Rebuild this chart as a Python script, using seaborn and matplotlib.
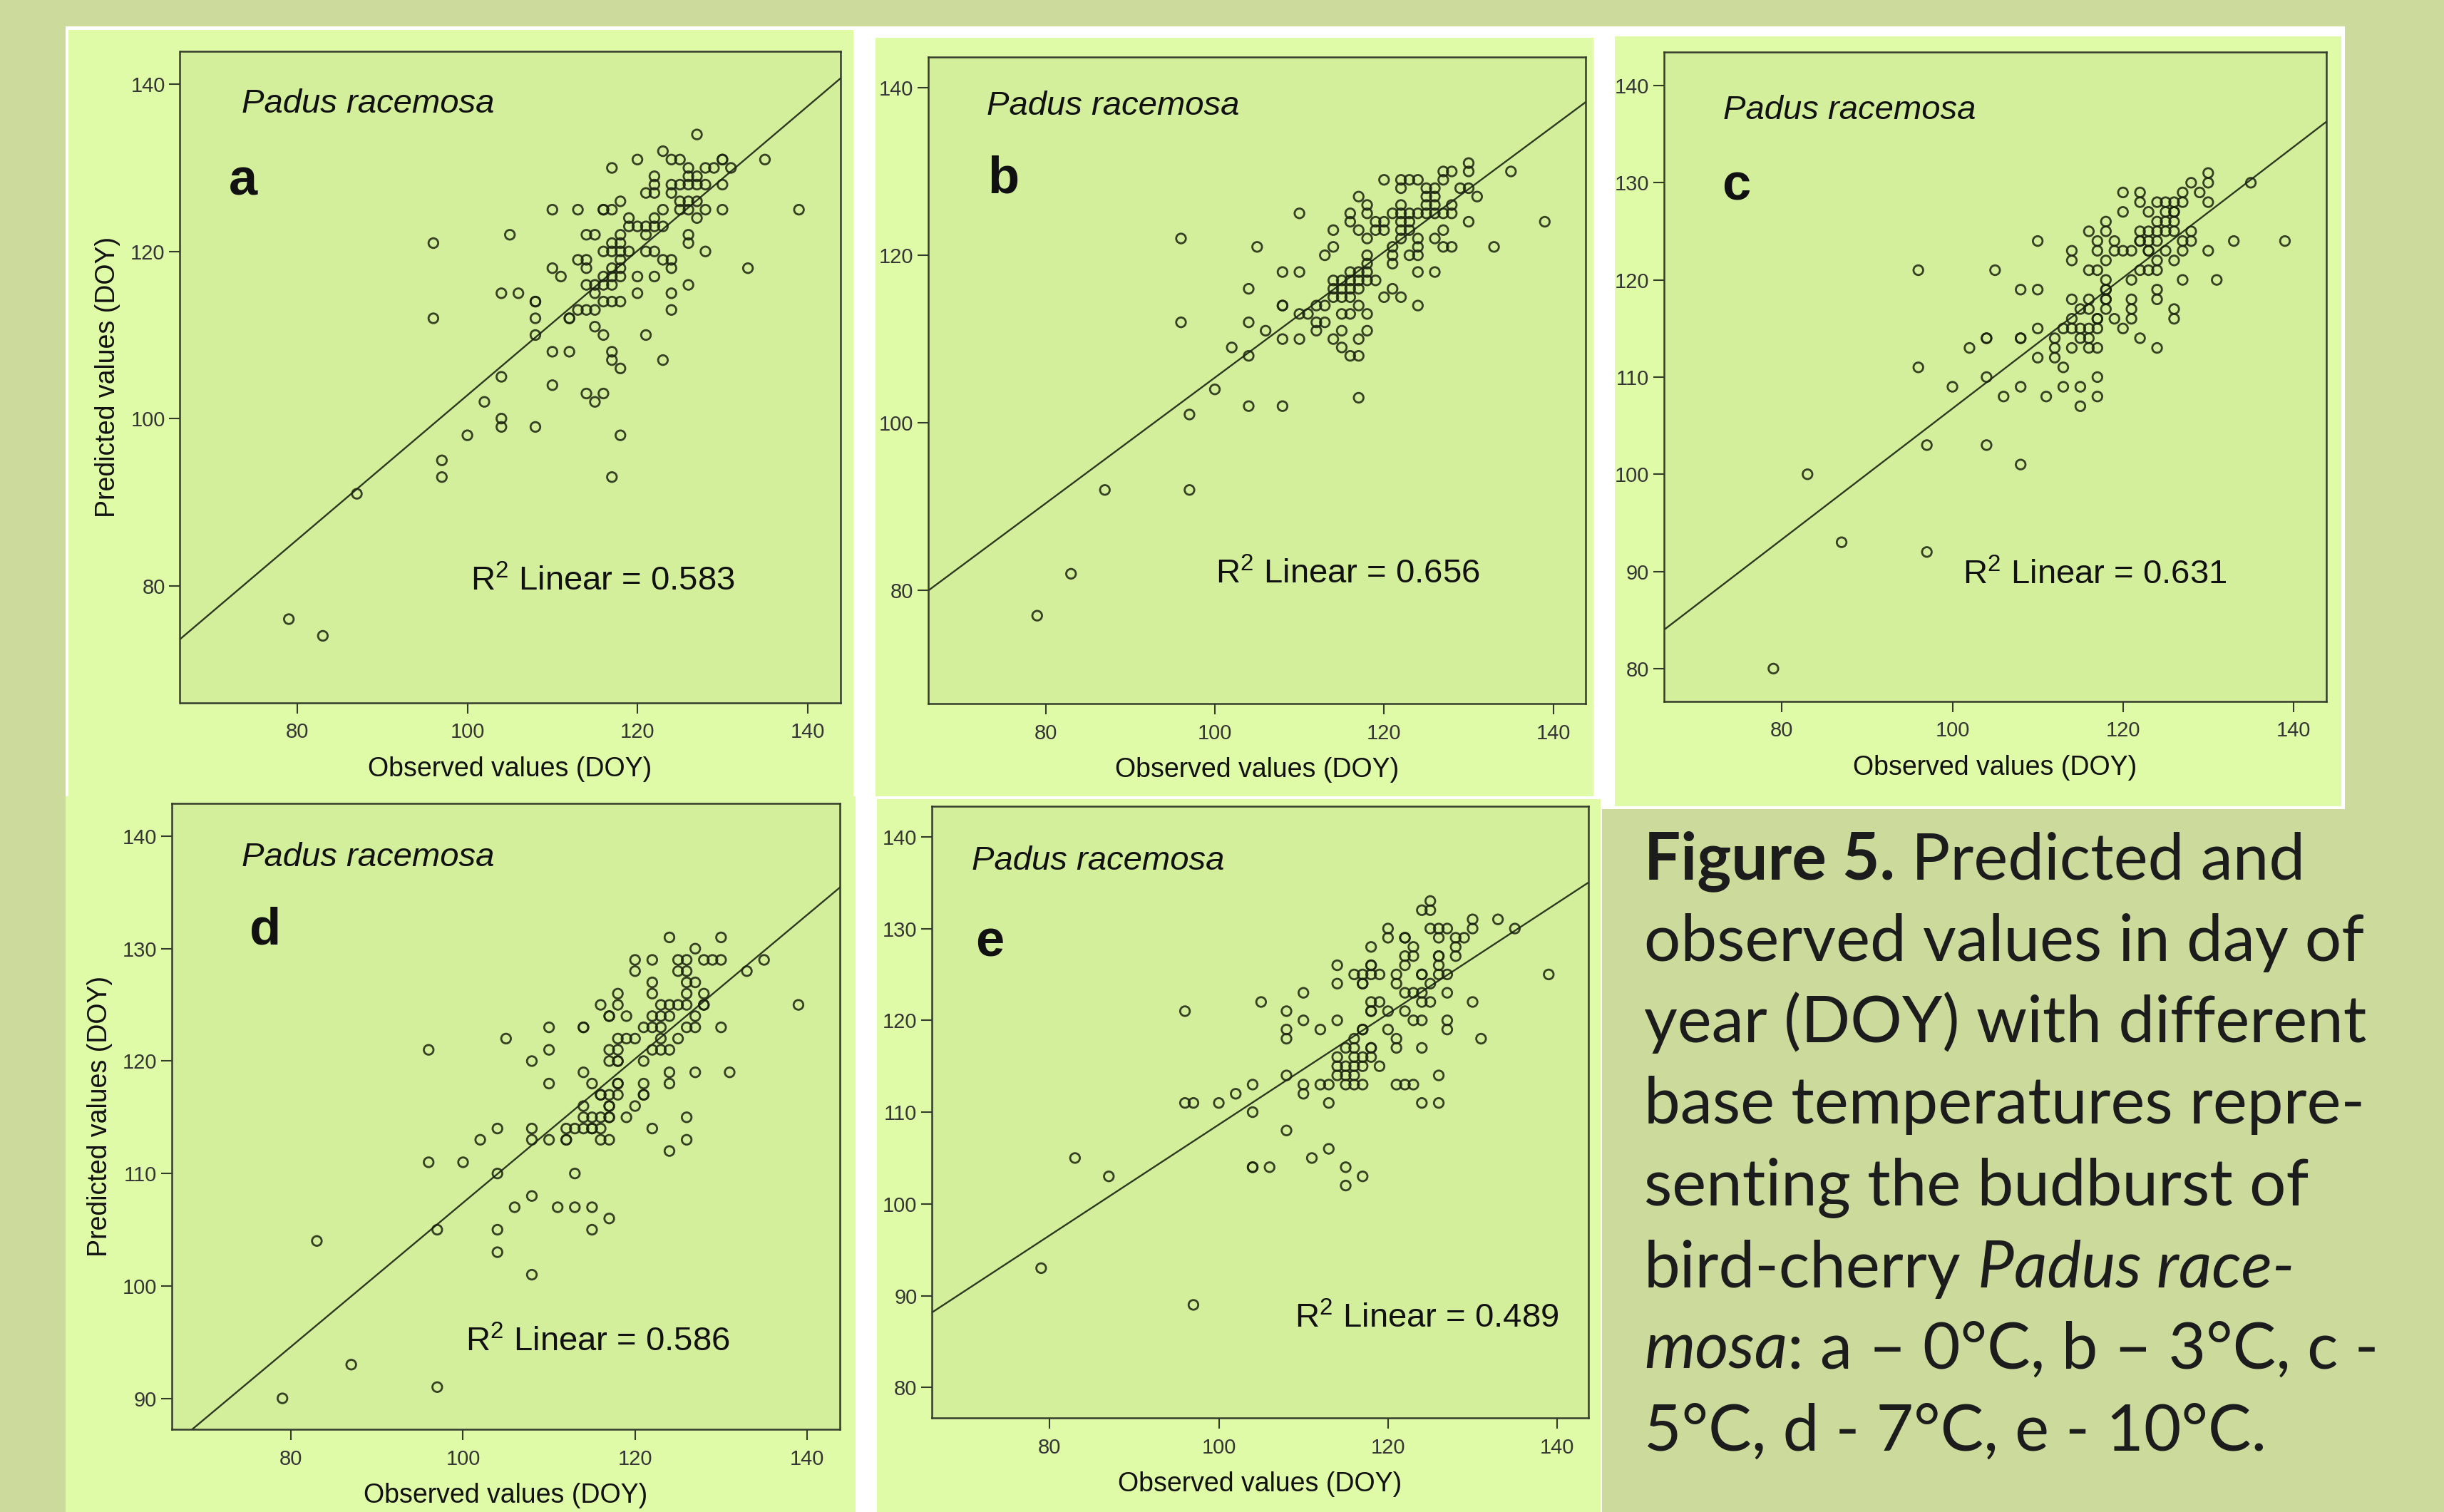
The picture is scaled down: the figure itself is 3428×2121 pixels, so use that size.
import numpy as np
import pandas as pd
import matplotlib
matplotlib.use("Agg")
import matplotlib.pyplot as plt
from matplotlib.patches import Rectangle
import seaborn as sns

# ==========================================
# Data: (observed DOY, predicted DOY)
# ==========================================
pts_a = [(127,134),(123,132),(120,131),(124,131),(125,131),(130,131),(130,131),(135,131),
         (117,130),(126,130),(128,130),(129,130),(131,130),(122,129),(126,129),(127,129),
         (122,128),(124,128),(125,128),(126,128),(127,128),(128,128),(130,128),
         (121,127),(122,127),(124,127),(118,126),(125,126),(126,126),(127,126),
         (110,125),(113,125),(116,125),(116,125),(117,125),(123,125),(125,125),(126,125),
         (128,125),(130,125),(139,125),(119,124),(122,124),(127,124),
         (119,123),(120,123),(121,123),(122,123),(123,123),
         (105,122),(114,122),(115,122),(118,122),(121,122),(126,122),
         (96,121),(117,121),(118,121),(126,121),
         (116,120),(117,120),(118,120),(119,120),(121,120),(122,120),(128,120),
         (113,119),(114,119),(118,119),(123,119),(124,119),
         (110,118),(114,118),(117,118),(118,118),(124,118),(133,118),
         (111,117),(116,117),(117,117),(118,117),(120,117),(122,117),
         (114,116),(115,116),(116,116),(117,116),(126,116),
         (104,115),(106,115),(115,115),(120,115),(124,115),
         (108,114),(108,114),(116,114),(117,114),(118,114),
         (113,113),(114,113),(115,113),(124,113),(96,112),(108,112),(112,112),(112,112),
         (115,111),(108,110),(116,110),(121,110),(110,108),(112,108),(117,108),
         (117,107),(123,107),(118,106),(104,105),(110,104),(114,103),(116,103),
         (102,102),(115,102),(104,100),(104,99),(108,99),(100,98),(118,98),
         (97,95),(97,93),(117,93),(87,91),(79,76),(83,74)]

pts_b = [(130,131),(130,130),(127,130),(128,130),(135,130),
         (120,129),(122,129),(123,129),(124,129),(127,129),
         (122,128),(125,128),(126,128),(129,128),(130,128),
         (117,127),(125,127),(126,127),(131,127),
         (118,126),(122,126),(125,126),(126,126),(128,126),
         (110,125),(116,125),(118,125),(121,125),(122,125),(123,125),(124,125),(125,125),
         (126,125),(127,125),(128,125),
         (116,124),(119,124),(120,124),(122,124),(123,124),(130,124),(139,124),
         (114,123),(117,123),(119,123),(120,123),(122,123),(123,123),(127,123),
         (96,122),(118,122),(122,122),(124,122),(126,122),
         (105,121),(114,121),(121,121),(124,121),(127,121),(128,121),(133,121),
         (113,120),(118,120),(121,120),(123,120),(124,120),(118,119),(121,119),
         (108,118),(110,118),(116,118),(117,118),(118,118),(124,118),(126,118),
         (114,117),(115,117),(116,117),(117,117),(118,117),(119,117),
         (104,116),(114,116),(115,116),(116,116),(117,116),(121,116),
         (114,115),(115,115),(116,115),(120,115),(122,115),
         (108,114),(108,114),(112,114),(113,114),(117,114),(124,114),
         (110,113),(111,113),(115,113),(116,113),(118,113),
         (96,112),(104,112),(112,112),(113,112),
         (106,111),(112,111),(115,111),(118,111),
         (108,110),(110,110),(114,110),(117,110),(102,109),(115,109),
         (104,108),(116,108),(117,108),(100,104),(117,103),(104,102),(108,102),
         (97,101),(97,92),(87,92),(83,82),(79,77)]

pts_c = [(130,131),(130,130),(128,130),(135,130),
         (120,129),(122,129),(127,129),(129,129),
         (122,128),(124,128),(125,128),(126,128),(127,128),(130,128),
         (120,127),(123,127),(125,127),(126,127),(126,127),
         (118,126),(124,126),(125,126),(126,126),
         (116,125),(118,125),(122,125),(123,125),(124,125),(125,125),(126,125),(128,125),
         (110,124),(117,124),(119,124),(122,124),(122,124),(123,124),(124,124),(127,124),
         (128,124),(133,124),(139,124),
         (114,123),(117,123),(119,123),(120,123),(121,123),(123,123),(123,123),(125,123),
         (127,123),(130,123),
         (114,122),(118,122),(124,122),(126,122),
         (96,121),(105,121),(116,121),(117,121),(122,121),(123,121),(124,121),
         (118,120),(121,120),(127,120),(131,120),
         (108,119),(110,119),(118,119),(118,119),(124,119),
         (114,118),(116,118),(118,118),(118,118),(121,118),(124,118),
         (115,117),(116,117),(118,117),(121,117),(126,117),
         (114,116),(117,116),(117,116),(119,116),(121,116),(126,116),
         (110,115),(113,115),(114,115),(115,115),(116,115),(117,115),(120,115),
         (104,114),(104,114),(108,114),(108,114),(112,114),(115,114),(116,114),(122,114),
         (102,113),(112,113),(114,113),(116,113),(117,113),(124,113),
         (110,112),(112,112),(96,111),(113,111),(104,110),(117,110),
         (100,109),(108,109),(113,109),(115,109),(106,108),(111,108),(117,108),
         (115,107),(97,103),(104,103),(108,101),(83,100),(87,93),(97,92),(79,80)]

pts_d = [(124,131),(130,131),(127,130),
         (120,129),(122,129),(125,129),(126,129),(128,129),(129,129),(130,129),(135,129),
         (120,128),(125,128),(126,128),(133,128),
         (122,127),(126,127),(127,127),(118,126),(122,126),(126,126),(128,126),
         (116,125),(118,125),(123,125),(124,125),(125,125),(126,125),(128,125),(128,125),
         (139,125),
         (117,124),(117,124),(119,124),(122,124),(123,124),(124,124),(127,124),
         (110,123),(114,123),(114,123),(121,123),(122,123),(123,123),(126,123),(127,123),
         (130,123),
         (105,122),(118,122),(119,122),(120,122),(123,122),(125,122),
         (96,121),(110,121),(117,121),(118,121),(122,121),(123,121),(124,121),
         (108,120),(117,120),(118,120),(118,120),(121,120),
         (114,119),(124,119),(127,119),(131,119),
         (110,118),(115,118),(118,118),(118,118),(121,118),(124,118),
         (116,117),(116,117),(117,117),(118,117),(121,117),(121,117),
         (114,116),(117,116),(117,116),(120,116),
         (114,115),(115,115),(116,115),(117,115),(117,115),(119,115),(126,115),
         (104,114),(108,114),(112,114),(113,114),(114,114),(115,114),(115,114),(116,114),
         (122,114),
         (102,113),(108,113),(110,113),(112,113),(112,113),(116,113),(117,113),(126,113),
         (124,112),(96,111),(100,111),(104,110),(113,110),(108,108),
         (106,107),(111,107),(113,107),(115,107),(117,106),
         (97,105),(104,105),(115,105),(104,103),(108,101),
         (97,91),(79,90),(83,104),(87,93)]

pts_e = [(125,133),(124,132),(125,132),(130,131),(133,131),
         (120,130),(125,130),(126,130),(127,130),(130,130),(135,130),
         (120,129),(122,129),(122,129),(126,129),(128,129),(129,129),
         (118,128),(123,128),(128,128),
         (122,127),(123,127),(126,127),(126,127),(128,127),
         (114,126),(118,126),(118,126),(122,126),(126,126),
         (116,125),(117,125),(118,125),(119,125),(121,125),(124,125),(124,125),(126,125),
         (127,125),(139,125),
         (114,124),(117,124),(117,124),(121,124),(125,124),
         (110,123),(122,123),(123,123),(124,123),(127,123),
         (105,122),(118,122),(119,122),(124,122),(125,122),(130,122),
         (96,121),(108,121),(118,121),(118,121),(120,121),(122,121),
         (110,120),(114,120),(123,120),(124,120),(127,120),
         (108,119),(112,119),(117,119),(117,119),(120,119),(127,119),
         (108,118),(116,118),(121,118),(131,118),
         (115,117),(116,117),(118,117),(118,117),(121,117),(124,117),
         (114,116),(116,116),(117,116),(118,116),
         (114,115),(115,115),(116,115),(117,115),(119,115),
         (108,114),(114,114),(115,114),(116,114),(126,114),
         (104,113),(110,113),(112,113),(113,113),(115,113),(116,113),(117,113),(121,113),
         (122,113),(123,113),
         (102,112),(110,112),(96,111),(97,111),(100,111),(113,111),(124,111),(126,111),
         (104,110),(108,108),(113,106),(111,105),
         (104,104),(104,104),(106,104),(115,104),(117,103),(115,102),
         (79,93),(83,105),(87,103),(97,89)]

# fit lines as drawn in the figure: (intercept, slope)
fit_a = (16.4, 0.864)
fit_b = (30.4, 0.750)
fit_c = (39.46, 0.673)
fit_d = (43.4, 0.640)
fit_e = (48.28, 0.6036)

r2_labels = ["0.583", "0.656", "0.631", "0.586", "0.489"]
panel_letters = ["a", "b", "c", "d", "e"]
species = "Padus racemosa"

caption_lines = [
    [("Figure 5.", "bold", "normal"), (" Predicted and", "normal", "normal")],
    [("observed values in day of", "normal", "normal")],
    [("year (DOY) with different", "normal", "normal")],
    [("base temperatures repre-", "normal", "normal")],
    [("senting the budburst of", "normal", "normal")],
    [("bird-cherry ", "normal", "normal"), ("Padus race-", "normal", "italic")],
    [("mosa", "normal", "italic"), (": a \u2013 0°C, b \u2013 3°C, c -", "normal", "normal")],
    [("5°C, d - 7°C, e - 10°C.", "normal", "normal")],
]

# ==========================================
# Style
# ==========================================
sns.set_style("ticks")
plt.rcParams['font.family'] = ['Liberation Sans', 'DejaVu Sans']
plt.rcParams['mathtext.fontset'] = 'custom'
plt.rcParams['mathtext.rm'] = 'Liberation Sans'
plt.rcParams['mathtext.it'] = 'Liberation Sans:italic'
plt.rcParams['mathtext.bf'] = 'Liberation Sans:bold'

BG = "#ccda9b"
BOX = "#e0fba7"
FACE = "#d4ef9b"
INK = "#1a220e"
LINE = "#2c3820"
SPINE = "#333b2a"
TICKC = "#353535"

W, H = 3428, 2121
fig = plt.figure(figsize=(W / 100, H / 100), dpi=100)
fig.patch.set_facecolor(BG)


def fig_rect(x0, y0, x1, y1, color):
    fig.add_artist(Rectangle((x0 / W, 1 - y1 / H), (x1 - x0) / W, (y1 - y0) / H,
                             transform=fig.transFigure, facecolor=color,
                             edgecolor="none", zorder=-5))


# white mounts and light panel cards
fig_rect(92, 37, 3289, 1135, "white")
fig_rect(92, 1110, 2247, 2121, "white")
fig_rect(96, 42, 1197, 1117, BOX)
fig_rect(1228, 53, 2235, 1117, BOX)
fig_rect(2265, 51, 3284, 1131, BOX)
fig_rect(92, 1117, 1200, 2121, BOX)
fig_rect(1230, 1121, 2245, 2121, BOX)

# panel layout in pixels (left, top, right, bottom)
panels = [
    dict(pts=pts_a, fit=fit_a, box=(252.5, 72, 1178.6, 985.7), xlim=(66.2, 143.86),
         ylim=(66.0, 143.95), yticks=[80, 100, 120, 140], ylab=True,
         sp=(0.093, 0.906), let=(0.074, 0.78), r2=(0.44, 0.172)),
    dict(pts=pts_b, fit=fit_b, box=(1301.7, 80, 2224.2, 987.1), xlim=(66.1, 143.84),
         ylim=(66.5, 143.65), yticks=[80, 100, 120, 140], ylab=False,
         sp=(0.089, 0.911), let=(0.091, 0.79), r2=(0.437, 0.186)),
    dict(pts=pts_c, fit=fit_c, box=(2334.1, 72.7, 3262.8, 983.7), xlim=(66.18, 143.84),
         ylim=(76.64, 143.47), yticks=[80, 90, 100, 110, 120, 130, 140], ylab=False,
         sp=(0.089, 0.896), let=(0.087, 0.772), r2=(0.451, 0.18)),
    dict(pts=pts_d, fit=fit_d, box=(240.8, 1127.3, 1178.2, 2005.1), xlim=(66.12, 143.83),
         ylim=(87.24, 142.9), yticks=[90, 100, 110, 120, 130, 140], ylab=True,
         sp=(0.105, 0.90), let=(0.117, 0.775), r2=(0.44, 0.125)),
    dict(pts=pts_e, fit=fit_e, box=(1307.3, 1131.3, 2227.7, 1988.8), xlim=(66.1, 143.67),
         ylim=(76.7, 143.3), yticks=[80, 90, 100, 110, 120, 130, 140], ylab=False,
         sp=(0.06, 0.896), let=(0.066, 0.755), r2=(0.553, 0.147)),
]

for i, p in enumerate(panels):
    x0, y0, x1, y1 = p["box"]
    axw, axh = x1 - x0, y1 - y0
    ax = fig.add_axes([x0 / W, 1 - y1 / H, axw / W, axh / H])
    ax.set_facecolor(FACE)

    df = pd.DataFrame(p["pts"], columns=["observed", "predicted"])
    sns.scatterplot(data=df, x="observed", y="predicted", ax=ax, marker="o", s=95,
                    color=INK, facecolor="none", edgecolor=INK, linewidth=2.0,
                    alpha=0.85, legend=False, zorder=3)

    ax.set_xlim(p["xlim"])
    ax.set_ylim(p["ylim"])
    b0, b1 = p["fit"]
    xs = np.array(p["xlim"])
    sns.lineplot(x=xs, y=b0 + b1 * xs, ax=ax, color=LINE, linewidth=1.7, zorder=2)
    ax.set_xlim(p["xlim"])
    ax.set_ylim(p["ylim"])

    ax.set_xticks([80, 100, 120, 140])
    ax.set_yticks(p["yticks"])
    ax.tick_params(axis="both", direction="out", length=11, width=1.5, color=SPINE,
                   labelcolor=TICKC, labelsize=21)
    ax.tick_params(axis="x", pad=9)
    ax.tick_params(axis="y", pad=4)
    for s in ax.spines.values():
        s.set_visible(True)
        s.set_color(SPINE)
        s.set_linewidth(1.8)

    ax.set_xlabel("Observed values (DOY)", fontsize=27, color="#111111")
    ax.xaxis.set_label_coords(0.5, -75 / axh)
    if p["ylab"]:
        ax.set_ylabel("Predicted values (DOY)", fontsize=27, color="#111111")
        ax.yaxis.set_label_coords(-83 / axw, 0.5)
    else:
        ax.set_ylabel("")

    ax.text(p["sp"][0], p["sp"][1], species, transform=ax.transAxes, fontsize=34,
            fontstyle="italic", color="#111111", va="baseline", ha="left")
    ax.text(p["let"][0], p["let"][1], panel_letters[i], transform=ax.transAxes,
            fontsize=52, fontweight="bold", color="#111111", va="baseline", ha="left")
    ax.text(p["r2"][0], p["r2"][1], r"R$^{2}$ Linear = " + r2_labels[i],
            transform=ax.transAxes, fontsize=34, color="#111111", va="baseline", ha="left")

# ==========================================
# Caption, built segment by segment
# ==========================================
fig.canvas.draw()
rend = fig.canvas.get_renderer()
CAP_FONT = ["Lato", "DejaVu Sans"]


def text_w(s, size, weight="normal", style="normal"):
    t = fig.text(0, 0, s, fontsize=size, family=CAP_FONT, weight=weight, style=style)
    w = t.get_window_extent(rend).width
    t.remove()
    return w


cap_size = 100 * 1010 / text_w(caption_lines[1][0][0], 100)
cap_x0, cap_base, cap_step = 2306, 1233, 114.5

for li, segs in enumerate(caption_lines):
    x = cap_x0
    y = cap_base + li * cap_step
    for txt, weight, style in segs:
        sp_w = text_w("n n", cap_size, weight, style) - text_w("nn", cap_size, weight, style)
        lead = len(txt) - len(txt.lstrip(" "))
        trail = len(txt) - len(txt.rstrip(" "))
        x += lead * sp_w
        t = fig.text(x / W, 1 - y / H, txt.strip(" "), fontsize=cap_size, family=CAP_FONT,
                     weight=weight, style=style, color="#1c1c1c", va="baseline", ha="left")
        x = t.get_window_extent(rend).x1 + trail * sp_w

fig.savefig("out.png", dpi=100, facecolor=fig.get_facecolor())
